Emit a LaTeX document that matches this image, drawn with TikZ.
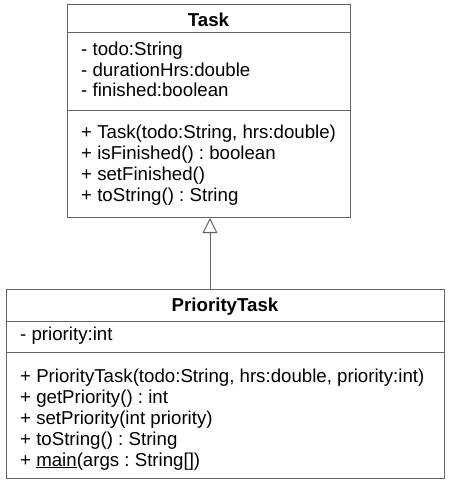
\documentclass[tikz,border=0pt]{standalone}
\usepackage{fontspec}
\setmainfont{Liberation Sans}
\usetikzlibrary{arrows.meta}
\definecolor{umlline}{RGB}{100,100,100}
\frenchspacing
\begin{document}
\begin{tikzpicture}[x=1pt,y=-1pt,
  box/.style={draw=umlline, line width=1pt, anchor=north west, inner sep=0pt, fill=white},
  sep/.style={draw=umlline, line width=1pt},
  txt/.style={anchor=base west, inner sep=0pt, font=\fontsize{18.67}{21}\selectfont\frenchspacing},
  ttl/.style={anchor=base, inner sep=0pt, font=\fontsize{18.67}{21}\selectfont\bfseries},
  inherit/.style={draw=umlline, line width=1pt, -{Triangle[open, length=15pt, width=15pt, fill=white]}}]
\useasboundingbox (0,0) rectangle (450,484);
% Task
\node[box, minimum width=283pt, minimum height=213pt] (task) at (67,4) {};
\draw[sep] (67,33) -- (350,33);
\draw[sep] (67,111) -- (350,111);
\node[ttl] (tasktitle) at (208.5,26.7) {Task};
\node[txt] (a1) at (81,55.5) {- todo:String};
\node[txt] (a2) at (81,76.5) {- durationHrs:double};
\node[txt] (a3) at (81,97) {- finished:boolean};
\node[txt] (m1) at (81,138.3) {+ Task(todo:String, hrs:double)};
\node[txt] (m2) at (81,159.3) {+ isFinished() : boolean};
\node[txt] (m3) at (81,180.3) {+ setFinished()};
\node[txt] (m4) at (81,201.3) {+ toString() : String};
% PriorityTask
\node[box, minimum width=438pt, minimum height=189pt] (prio) at (6,289) {};
\draw[sep] (6,321) -- (444,321);
\draw[sep] (6,352) -- (444,352);
\node[ttl] (priotitle) at (225,311.7) {PriorityTask};
\node[txt] (b1) at (20,340) {- priority:int};
\node[txt] (n1) at (20,382.7) {+ PriorityTask(todo:String, hrs:double, priority:int)};
\node[txt] (n2) at (20,403.5) {+ getPriority() : int};
\node[txt] (n3) at (20,424.3) {+ setPriority(int priority)};
\node[txt] (n4) at (20,445) {+ toString() : String};
\node[txt] (n5) at (20,466) {+ \underline{main}(args : String[])};
% inheritance
\coordinate (ax) at (210,0);
\draw[inherit] (prio.north -| ax) -- (task.south -| ax);
\end{tikzpicture}
\end{document}
